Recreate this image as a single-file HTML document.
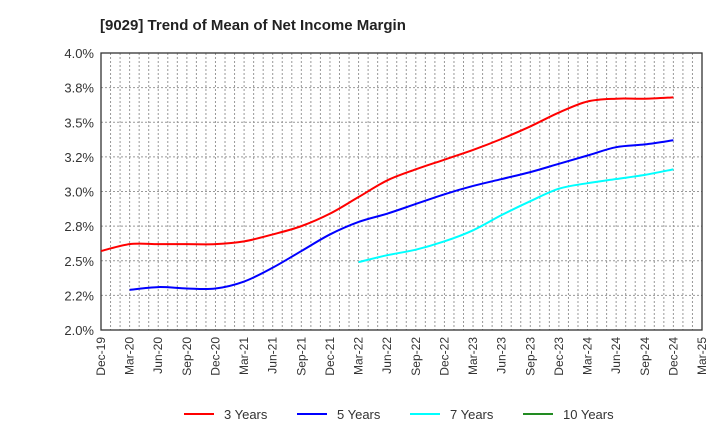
<!DOCTYPE html>
<html><head><meta charset="utf-8"><style>
body{margin:0;background:#fff}
svg{font-family:"Liberation Sans",sans-serif}
</style></head><body>
<svg id="c" width="720" height="440">
<text x="100" y="30" font-size="15" font-weight="bold" fill="#222">[9029]  Trend of Mean of Net Income Margin</text>
<g id="grid"></g><g id="axes"></g><g id="series"></g><g id="legend"></g>
</svg>
<script>
const quarters=["Dec-19","Mar-20","Jun-20","Sep-20","Dec-20","Mar-21","Jun-21","Sep-21","Dec-21","Mar-22","Jun-22","Sep-22","Dec-22","Mar-23","Jun-23","Sep-23","Dec-23","Mar-24","Jun-24","Sep-24","Dec-24","Mar-25"];
const yTicks=[2.0,2.25,2.5,2.75,3.0,3.25,3.5,3.75,4.0];
const yTickLabels=["2.0%","2.2%","2.5%","2.8%","3.0%","3.2%","3.5%","3.8%","4.0%"];
const s3=[2.57,2.62,2.62,2.62,2.62,2.64,2.69,2.75,2.84,2.96,3.08,3.16,3.23,3.30,3.38,3.47,3.57,3.65,3.67,3.67,3.68];
const s5=[null,2.29,2.31,2.30,2.30,2.35,2.45,2.57,2.69,2.78,2.84,2.91,2.98,3.04,3.09,3.14,3.20,3.26,3.32,3.34,3.37];
const s7=[null,null,null,null,null,null,null,null,null,2.49,2.54,2.58,2.64,2.72,2.83,2.93,3.02,3.06,3.09,3.12,3.16];
const s10=[];
const names=["3 Years","5 Years","7 Years","10 Years"];
const colors=["#ff0000","#0000ff","#00ffff","#228b22"];
const L=101,R=702,T=53,B=330,NS="http://www.w3.org/2000/svg";
const xS=i=>L+(R-L)*i/((quarters.length-1));
const yS=v=>B-(v-2)/2*(B-T);
function el(t,a,p){const e=document.createElementNS(NS,t);for(const k in a)e.setAttribute(k,a[k]);p.appendChild(e);return e;}
const g=document.getElementById('grid'),ax=document.getElementById('axes'),se=document.getElementById('series'),lg=document.getElementById('legend');
for(let m=1;m<(quarters.length-1)*3;m++){const x=L+(R-L)*m/((quarters.length-1)*3);
const ln=el('line',{x1:x,x2:x,y1:T,y2:B,stroke:'#999','stroke-dasharray':'2,2','stroke-width':1},g);

}
yTicks.forEach((v,i)=>{const y=yS(v);
if(i>0&&i<yTicks.length-1){const ln=el('line',{x1:L,x2:R,y1:y,y2:y,stroke:'#999','stroke-dasharray':'2,2'},g);

}
const t=el('text',{x:L-7,y:y+5,'text-anchor':'end','font-size':13,fill:'#333'},ax);t.textContent=yTickLabels[i];

});
const fr=el('rect',{x:L,y:T,width:R-L,height:B-T,fill:'none',stroke:'#333','stroke-width':1.3},ax);


quarters.forEach((q,i)=>{const x=xS(i);
const t=el('text',{transform:`translate(${x+4},337) rotate(-90)`,'text-anchor':'end','font-size':12,fill:'#333'},ax);t.textContent=q;

});
function path(arr){const pts=[];arr.forEach((v,i)=>{if(v!=null)pts.push([xS(i),yS(v)]);});if(pts.length<2)return '';
let d=`M${pts[0][0]},${pts[0][1]}`;for(let i=0;i<pts.length-1;i++){const p0=pts[Math.max(0,i-1)],p1=pts[i],p2=pts[i+1],p3=pts[Math.min(pts.length-1,i+2)];
d+=` C${p1[0]+(p2[0]-p0[0])/6},${p1[1]+(p2[1]-p0[1])/6} ${p2[0]-(p3[0]-p1[0])/6},${p2[1]-(p3[1]-p1[1])/6} ${p2[0]},${p2[1]}`;}return d;}
[s3,s5,s7,s10].forEach((s,k)=>{const d=path(s);if(!d)return;const p=el('path',{d:d,fill:'none',stroke:colors[k],'stroke-width':2},se);

});
const lx=[184,297,410,523];
names.forEach((n,k)=>{const gg=el('g',{},lg);


el('line',{x1:lx[k],x2:lx[k]+30,y1:414,y2:414,stroke:colors[k],'stroke-width':2},gg);
const t=el('text',{x:lx[k]+40,y:419,'font-size':13,fill:'#333'},gg);t.textContent=n;});
</script>
</body></html>
